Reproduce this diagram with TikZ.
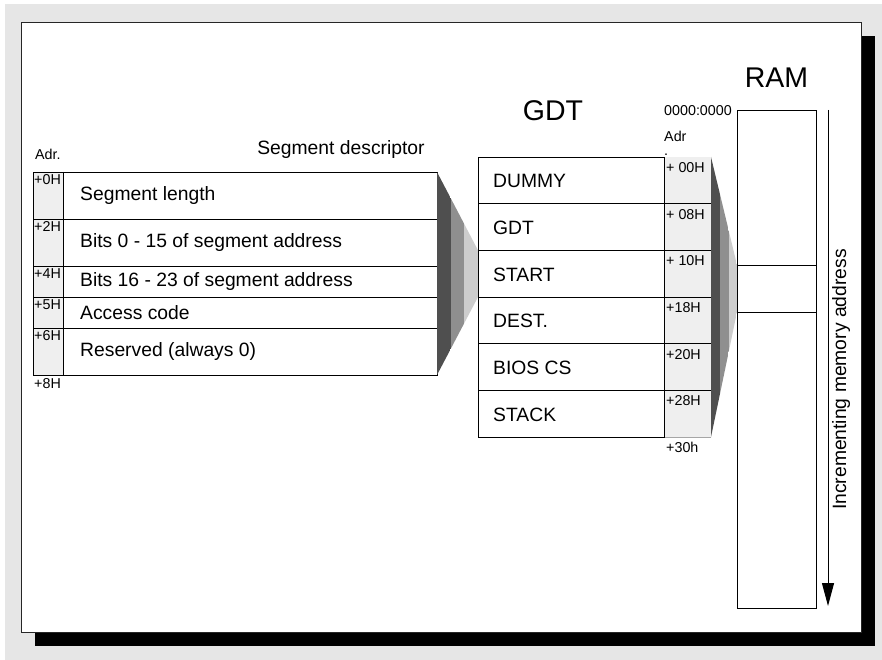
\documentclass[tikz,border=0pt]{standalone}
\usepackage{fontspec}
\setmainfont{Liberation Sans}
\usetikzlibrary{arrows.meta}
\definecolor{bggrey}{HTML}{E6E6E6}
\definecolor{adrgrey}{HTML}{EFEFEF}
\definecolor{bandA}{HTML}{4F4F4F}
\definecolor{bandB}{HTML}{8F8F8F}
\definecolor{bandC}{HTML}{CDCDCD}
\begin{document}
\begin{tikzpicture}[x=1pt,y=-1pt,
  maintxt/.style={font=\fontsize{19.3}{22}\selectfont, inner sep=0pt, anchor=west},
  smalltxt/.style={font=\fontsize{14.3}{16}\selectfont, inner sep=0pt, anchor=north west},
  smallw/.style={font=\fontsize{14.3}{16}\selectfont, inner sep=0pt, anchor=west},
  titletxt/.style={font=\fontsize{28.5}{32}\selectfont, inner sep=0pt},
  tbl/.style={draw=black, line width=0.8pt},
]
\useasboundingbox (0,0) rectangle (882,660);
% background and framed sheet with shadow
\fill[white] (0,0) rectangle (882,660);
\fill[bggrey] (5,4) rectangle (882,660);
\fill[black] (35,36) rectangle (875,646);
\draw[fill=white, draw=black!85, line width=1pt] (21,23) rectangle (861,632);

% ---------- Segment descriptor ----------
\coordinate (dNW) at (33,172);
\coordinate (dNE) at (437,172);
\coordinate (dSE) at (437,375);
\fill[adrgrey] (33,172) rectangle (63,375);
\draw[tbl] (dNW) rectangle (dSE);
\draw[tbl] (63,172) -- (63,375);
\foreach \y in {219,266,297,328} \draw[tbl] (33,\y) -- (437,\y);

\node[smallw] (adrL) at (35,154) {Adr.};
\node[font=\fontsize{19.3}{22}\selectfont, inner sep=0pt] (segtitle) at (341,150) {Segment descriptor};

\node[smalltxt] (a0) at (34,174) {+0H};
\node[smalltxt] (a2) at (34,221) {+2H};
\node[smalltxt] (a4) at (34,268) {+4H};
\node[smalltxt] (a5) at (34,299) {+5H};
\node[smalltxt] (a6) at (34,330) {+6H};
\node[smallw] (a8) at (34,384) {+8H};

\node[maintxt] (r1) at (80,195.5) {Segment length};
\node[maintxt] (r2) at (80,242.5) {Bits 0 - 15 of segment address};
\node[maintxt] (r3) at (80,281.5) {Bits 16 - 23 of segment address};
\node[maintxt] (r4) at (80,312.5) {Access code};
\node[maintxt] (r5) at (80,351.5) {Reserved (always 0)};

% ---------- GDT ----------
\node[titletxt] (gdttitle) at (553,111) {GDT};
\fill[adrgrey] (664,157) rectangle (711,437);
\draw[draw=black!35, line width=0.6pt] (664,437) -- (711,437);
\draw[tbl] (478,157) rectangle (664,437);
\foreach \y in {203.7,250.3,297,343.7,390.3} \draw[tbl] (478,\y) -- (711,\y);
\coordinate (gStartTop) at (478,250.3);
\coordinate (gStartBot) at (478,297);

\node[maintxt] (g1) at (493,181) {DUMMY};
\node[maintxt] (g2) at (493,228) {GDT};
\node[maintxt] (g3) at (493,274.5) {START};
\node[maintxt] (g4) at (493,321) {DEST.};
\node[maintxt] (g5) at (493,368) {BIOS CS};
\node[maintxt] (g6) at (493,414.5) {STACK};

\node[smalltxt] (h0) at (666,162) {+ 00H};
\node[smalltxt] (h1) at (666,209) {+ 08H};
\node[smalltxt] (h2) at (666,255.5) {+ 10H};
\node[smalltxt] (h3) at (666,302) {+18H};
\node[smalltxt] (h4) at (666,349) {+20H};
\node[smalltxt] (h5) at (666,395.5) {+28H};
\node[smallw] (h6) at (666,447) {+30h};

\node[smallw] (ramadr) at (664,111) {0000:0000};
\node[font=\fontsize{14.3}{14}\selectfont, inner sep=0pt, anchor=north west, align=left] (adrR) at (664,131) {Adr\\.};

% ---------- RAM ----------
\node[titletxt] (ramtitle) at (776.5,78) {RAM};
\coordinate (ramNW) at (737,110);
\coordinate (ramSE) at (816,608);
\draw[tbl] (ramNW) rectangle (ramSE);
\coordinate (ramSegTop) at (737,265);
\coordinate (ramSegBot) at (737,312);
\draw[tbl] (ramSegTop) -- (816,265);
\draw[tbl] (ramSegBot) -- (816,312);

\coordinate (arrTop) at (828,110);
\coordinate (arrBot) at (828,606);
\draw[line width=1pt, -{Triangle[length=23pt,width=12pt]}] (arrTop) -- (arrBot);
\node[font=\fontsize{19.3}{22}\selectfont, inner sep=0pt, rotate=90] (incr) at (841,379.5) {Incrementing memory address};

% ---------- beams ----------
\begin{scope}
  \clip (dNE) -- (gStartTop) -- (gStartBot) -- (dSE) -- cycle;
  \fill[bandA] (437,150) rectangle (451,400);
  \fill[bandB] (451,150) rectangle (464,400);
  \fill[bandC] (464,150) rectangle (478,400);
\end{scope}
\begin{scope}
  \clip (711,157) -- (ramSegTop) -- (ramSegBot) -- (711,437) -- cycle;
  \fill[bandA] (711,150) rectangle (720,450);
  \fill[bandB] (720,150) rectangle (729,450);
  \fill[bandC] (729,150) rectangle (737,450);
\end{scope}
\end{tikzpicture}
\end{document}
